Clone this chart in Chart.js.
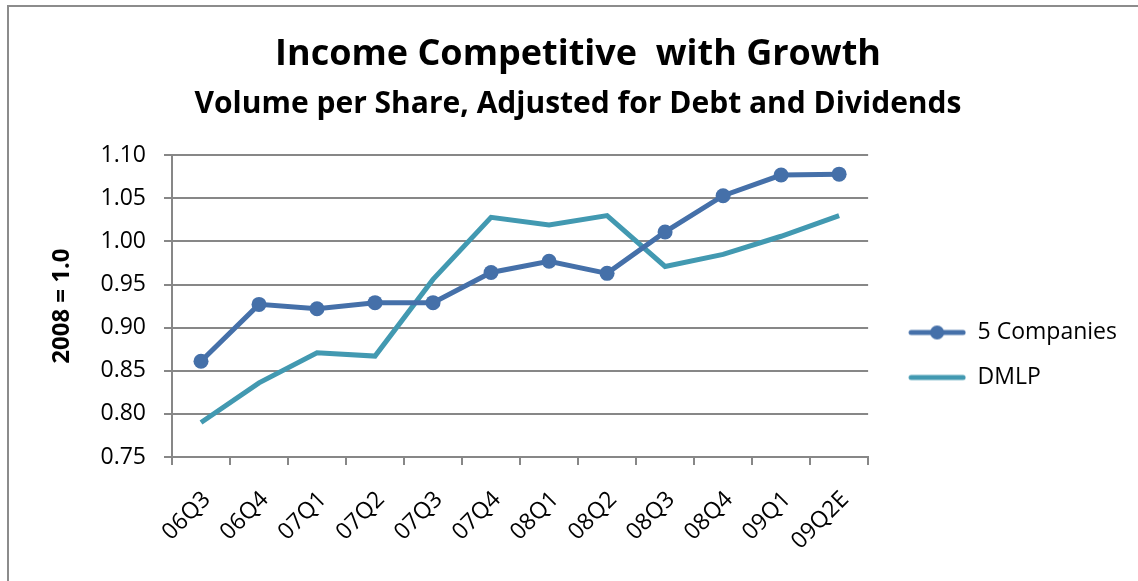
<!DOCTYPE html>
<html>
<head>
<meta charset="utf-8">
<script src="https://cdn.jsdelivr.net/npm/chart.js@4/dist/chart.umd.min.js"></script>
<style>
  html, body { margin: 0; padding: 0; background: #fff; overflow: hidden; }
  #frame { position: absolute; left: 7px; top: 5px; width: 1140px; height: 590px;
           border-left: 2px solid #8c8c8c; border-top: 2px solid #8c8c8c; }
  #wrap { position: absolute; left: 9px; top: 7px; width: 1129px; height: 574px; }
</style>
</head>
<body>
<div id="frame"></div>
<div id="wrap"><canvas id="graph"></canvas></div>
<script>
const quarters = ['06Q3', '06Q4', '07Q1', '07Q2', '07Q3', '07Q4', '08Q1', '08Q2', '08Q3', '08Q4', '09Q1', '09Q2E']
const fiveCompanies = [0.861, 0.927, 0.922, 0.929, 0.929, 0.964, 0.977, 0.963, 1.011, 1.053, 1.077, 1.078]
const dmlp = [0.790, 0.836, 0.871, 0.867, 0.956, 1.028, 1.019, 1.030, 0.971, 0.985, 1.006, 1.030]
const yTicks = [0.75, 0.80, 0.85, 0.90, 0.95, 1.00, 1.05, 1.10]

const blue = '#4570a9'
const teal = '#4299b1'
const grey = '#878787'
const font = '"Open Sans", Lato, sans-serif'

// legend icons like excel: thick line, dot in the middle for the marker series
// (left part of the canvas is left empty so the icon sits a bit away from the plot)
function legendIcon(color, withDot) {
  let c = document.createElement('canvas')
  c.width = 76
  c.height = 16
  let ctx = c.getContext('2d')
  ctx.strokeStyle = color
  ctx.lineWidth = 5
  ctx.lineCap = 'round'
  ctx.beginPath()
  ctx.moveTo(21, 8)
  ctx.lineTo(73, 8)
  ctx.stroke()
  if (withDot) {
    ctx.fillStyle = color
    ctx.beginPath()
    ctx.arc(47, 8, 7, 0, Math.PI * 2)
    ctx.fill()
  }
  return c
}

const graph = new Chart(document.getElementById('graph'), {
  type: 'line',
  data: {
    labels: quarters,
    datasets: [{
      label: '5 Companies',
      data: fiveCompanies,
      borderColor: blue,
      backgroundColor: blue,
      borderWidth: 5,
      pointRadius: 7.5,
      pointHoverRadius: 7.5,
      pointBorderWidth: 0,
      pointStyle: 'circle'
    }, {
      label: 'DMLP',
      data: dmlp,
      borderColor: teal,
      backgroundColor: teal,
      borderWidth: 5,
      pointRadius: 0,
      pointHoverRadius: 0
    }]
  },
  options: {
    responsive: true,
    maintainAspectRatio: false,
    animation: false,
    layout: { padding: { left: 20, right: 11, top: 26, bottom: 0 } },
    plugins: {
      title: {
        display: true,
        text: 'Income Competitive  with Growth',
        color: '#000',
        font: { family: font, size: 36, weight: 'bold' },
        padding: { top: 0, bottom: 10 }
      },
      subtitle: {
        display: true,
        text: 'Volume per Share, Adjusted for Debt and Dividends',
        color: '#000',
        font: { family: font, size: 30, weight: 'bold' },
        padding: { top: 0, bottom: 33 }
      },
      legend: {
        position: 'right',
        // empty title only pushes the entries down a bit
        title: { display: true, text: ' ', font: { size: 10 }, padding: { top: 84, bottom: 0 } },
        labels: {
          usePointStyle: true,
          pointStyleWidth: 76,
          color: '#000',
          font: { family: font, size: 23 },
          padding: 22,
          generateLabels: chart => chart.data.datasets.map((ds, i) => ({
            text: ds.label,
            pointStyle: legendIcon(ds.borderColor, i === 0),
            datasetIndex: i,
            fontColor: '#000',
            lineWidth: 0
          }))
        }
      },
      tooltip: { enabled: false }
    },
    scales: {
      x: {
        offset: true,
        afterFit: scale => { scale.height = 124 },
        border: { color: grey, width: 2 },
        grid: { offset: true, drawOnChartArea: false, drawTicks: true, tickLength: 8, color: grey, lineWidth: 2 },
        ticks: {
          color: '#000',
          font: { family: font, size: 23 },
          maxRotation: 45,
          minRotation: 45,
          padding: 21,
          labelOffset: 6
        }
      },
      y: {
        min: yTicks[0],
        max: yTicks[yTicks.length - 1],
        afterBuildTicks: axis => { axis.ticks = yTicks.map(v => ({ value: v })) },
        afterFit: scale => { scale.width = 143 },
        border: { color: grey, width: 2 },
        grid: { color: grey, lineWidth: 2, tickLength: 8 },
        ticks: {
          color: '#000',
          font: { family: font, size: 23 },
          padding: 18,
          callback: v => v.toFixed(2)
        },
        title: {
          display: true,
          text: '2008 = 1.0',
          color: '#000',
          font: { family: font, size: 24, weight: 'bold' },
          padding: { top: 19, bottom: 10 }
        }
      }
    }
  }
});
</script>
</body>
</html>
